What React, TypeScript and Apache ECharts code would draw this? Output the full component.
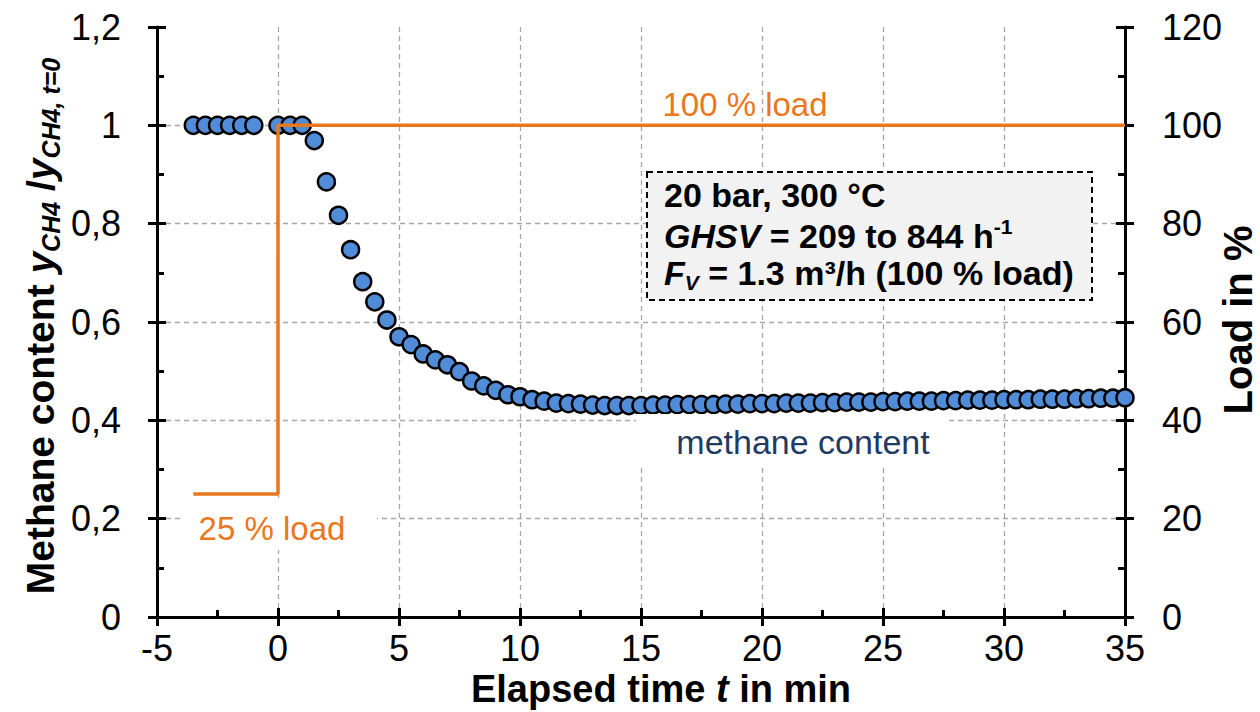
import React, { useEffect, useRef } from "react";
import * as echarts from "echarts";

const FONT = "'Liberation Sans', Arial, sans-serif";

// Methane content (normalised) vs elapsed time
const timeMin = [
  -3.5, -3, -2.5, -2, -1.5, -1,
  0, 0.5, 1, 1.5, 2, 2.5, 3, 3.5, 4, 4.5, 5, 5.5, 6, 6.5, 7, 7.5, 8, 8.5, 9, 9.5,
  10, 10.5, 11, 11.5, 12, 12.5, 13, 13.5, 14, 14.5, 15, 15.5, 16, 16.5, 17, 17.5,
  18, 18.5, 19, 19.5, 20, 20.5, 21, 21.5, 22, 22.5, 23, 23.5, 24, 24.5, 25, 25.5,
  26, 26.5, 27, 27.5, 28, 28.5, 29, 29.5, 30, 30.5, 31, 31.5, 32, 32.5, 33, 33.5,
  34, 34.5, 35,
];
const methaneContent = [
  1, 1, 1, 1, 1, 1,
  1, 1, 1, 0.969, 0.885, 0.817, 0.747, 0.682, 0.641, 0.604, 0.57, 0.554, 0.535, 0.523, 0.513, 0.499, 0.48, 0.47, 0.461, 0.452,
  0.448, 0.442, 0.439, 0.435, 0.434, 0.433, 0.431, 0.43, 0.43, 0.43, 0.43, 0.431, 0.431, 0.432, 0.432, 0.432,
  0.432, 0.433, 0.433, 0.434, 0.434, 0.434, 0.435, 0.435, 0.435, 0.436, 0.436, 0.437, 0.437, 0.437, 0.438, 0.438,
  0.439, 0.439, 0.439, 0.44, 0.44, 0.441, 0.441, 0.441, 0.442, 0.442, 0.442, 0.443, 0.443, 0.443, 0.444, 0.444,
  0.445, 0.445, 0.446,
];

// Load step (right axis, %)
const loadTime = [-3.5, 0, 0, 35];
const loadPercent = [25, 25, 100, 100];

// Axis ranges / ticks
const xMin = -5, xMax = 35, xStep = 5;
const yLeftMin = 0, yLeftMax = 1.2, yLeftStep = 0.2;
const yRightMin = 0, yRightMax = 120, yRightStep = 20;

const ORANGE = "#E8771E";
const BLUE = "#508CD7";
const NAVY = "#1F3B64";
const GRID = "#A6A6A6";

const fmtComma = (v: number) =>
  Number.isInteger(Math.round(v * 1000) / 1000) ? String(Math.round(v)) : v.toFixed(1).replace(".", ",");

export default function App() {
  const ref = useRef<HTMLDivElement>(null);
  useEffect(() => {
    if (!ref.current) return;
    const chart = echarts.init(ref.current, null, { renderer: "svg" });

    const tick = { color: "#000", width: 3 };
    const label = { fontSize: 36, color: "#000", fontFamily: FONT };
    const split = { show: true, showMaxLine: false, showMinLine: false, lineStyle: { type: [5, 4] as any, color: GRID, width: 1.3 } };

    const mk = (fs: number, sfs: number, lh: number) => ({
      b: { fontSize: fs, fontWeight: "bold", fontFamily: FONT, color: "#000", lineHeight: lh },
      bi: { fontSize: fs, fontWeight: "bold", fontStyle: "italic", fontFamily: FONT, color: "#000", lineHeight: lh },
      sup: { fontSize: sfs, fontWeight: "bold", fontFamily: FONT, color: "#000", lineHeight: sfs, verticalAlign: "top" },
      sub: { fontSize: sfs, fontWeight: "bold", fontStyle: "italic", fontFamily: FONT, color: "#000", lineHeight: sfs, verticalAlign: "bottom" },
    });
    const richLeft = mk(39, 25, 47);
    const rich = mk(38, 24, 46);
    const richRight = mk(40, 25, 48);
    const boxRich = mk(34, 21, 40);

    chart.setOption({
      animation: false,
      backgroundColor: "#fff",
      grid: { left: 157, right: 135, top: 27, bottom: 95, containLabel: false },
      xAxis: [
        {
          type: "value", min: xMin, max: xMax, interval: xStep, position: "bottom",
          axisLine: { show: true, onZero: false, lineStyle: { color: "#000", width: 3 } },
          axisTick: { show: true, inside: false, length: 9, lineStyle: tick },
          axisLabel: { ...label, margin: 13 },
          splitLine: split,
        },
        {
          type: "value", min: xMin, max: xMax, interval: xStep, position: "bottom",
          axisLine: { show: false, onZero: false },
          axisTick: { show: true, inside: true, length: 9, lineStyle: tick },
          minorTick: { show: true, splitNumber: 2, length: 7, lineStyle: tick },
          axisLabel: { show: false },
          splitLine: { show: false },
        },
      ],
      yAxis: [
        {
          type: "value", min: yLeftMin, max: yLeftMax, interval: yLeftStep, position: "left",
          axisLine: { show: true, onZero: false, lineStyle: { color: "#000", width: 3 } },
          axisTick: { show: true, inside: false, length: 9, lineStyle: tick },
          axisLabel: { ...label, margin: 36, formatter: fmtComma },
          splitLine: split,
        },
        {
          type: "value", min: yLeftMin, max: yLeftMax, interval: yLeftStep, position: "left",
          axisLine: { show: false, onZero: false },
          axisTick: { show: true, inside: true, length: 9, lineStyle: tick },
          minorTick: { show: true, splitNumber: 2, length: 7, lineStyle: tick },
          axisLabel: { show: false },
          splitLine: { show: false },
        },
        {
          type: "value", min: yRightMin, max: yRightMax, interval: yRightStep, position: "right",
          axisLine: { show: true, onZero: false, lineStyle: { color: "#000", width: 3 } },
          axisTick: { show: true, inside: false, length: 9, lineStyle: tick },
          axisLabel: { ...label, margin: 37 },
          splitLine: { show: false },
        },
        {
          type: "value", min: yRightMin, max: yRightMax, interval: yRightStep, position: "right",
          axisLine: { show: false, onZero: false },
          axisTick: { show: true, inside: true, length: 9, lineStyle: tick },
          minorTick: { show: true, splitNumber: 2, length: 7, lineStyle: tick },
          axisLabel: { show: false },
          splitLine: { show: false },
        },
      ],
      series: [
        {
          type: "scatter", name: "methane content", xAxisIndex: 0, yAxisIndex: 0, z: 3,
          data: timeMin.map((t, i) => [t, methaneContent[i]]),
          symbol: "circle", symbolSize: 17,
          itemStyle: { color: BLUE, borderColor: "#000", borderWidth: 2.5, opacity: 1 },
        },
        {
          type: "line", name: "load", xAxisIndex: 0, yAxisIndex: 2, z: 4,
          data: loadTime.map((t, i) => [t, loadPercent[i]]),
          symbol: "none",
          lineStyle: { color: ORANGE, width: 3.5 },
        },
      ],
      graphic: [
        {
          type: "text", x: 745, y: 104, z: 10,
          style: { text: "100 % load", fill: ORANGE, fontSize: 33, fontFamily: FONT, align: "center", verticalAlign: "middle" },
        },
        {
          type: "rect", z: 9, shape: { x: 180, y: 498, width: 197, height: 52 }, style: { fill: "#fff" },
        },
        {
          type: "text", x: 272, y: 528, z: 10,
          style: { text: "25 % load", fill: ORANGE, fontSize: 33, fontFamily: FONT, align: "center", verticalAlign: "middle" },
        },
        {
          type: "rect", z: 9, shape: { x: 636, y: 414, width: 311, height: 50 }, style: { fill: "#fff" },
        },
        {
          type: "text", x: 803, y: 442, z: 10,
          style: { text: "methane content", fill: NAVY, fontSize: 34, fontFamily: FONT, align: "center", verticalAlign: "middle" },
        },
        {
          type: "rect", z: 9, shape: { x: 647, y: 172, width: 445, height: 128 },
          style: { fill: "#F2F2F2", stroke: "#000", lineWidth: 2, lineDash: [6, 4] },
        },
        {
          type: "text", x: 664, y: 195, z: 10,
          style: { text: "{b|20 bar, 300 °C}", rich: boxRich, align: "left", verticalAlign: "middle" },
        },
        {
          type: "text", x: 664, y: 236, z: 10,
          style: { text: "{bi|GHSV}{b| = 209 to 844 h}{sup|-1}", rich: boxRich, align: "left", verticalAlign: "middle" },
        },
        {
          type: "text", x: 664, y: 273, z: 10,
          style: { text: "{bi|F}{sub|V}{b| = 1.3 m³/h (100 % load)}", rich: boxRich, align: "left", verticalAlign: "middle" },
        },
        {
          type: "text", x: 40, y: 326, rotation: Math.PI / 2, z: 10,
          style: { text: "{b|Methane content }{bi|y}{sub|CH4}{b| /}{bi|y}{sub|CH4, t=0}", rich: richLeft, align: "center", verticalAlign: "middle" },
        },
        {
          type: "text", x: 1238, y: 320, rotation: Math.PI / 2, z: 10,
          style: { text: "{b|Load in %}", rich: richRight, align: "center", verticalAlign: "middle" },
        },
        {
          type: "text", x: 661, y: 689, z: 10,
          style: { text: "{b|Elapsed time }{bi|t}{b| in min}", rich, align: "center", verticalAlign: "middle" },
        },
      ],
    });
    return () => chart.dispose();
  }, []);
  return <div ref={ref} style={{ position: "absolute", left: 0, top: 0, width: 1260, height: 712 }} />;
}
